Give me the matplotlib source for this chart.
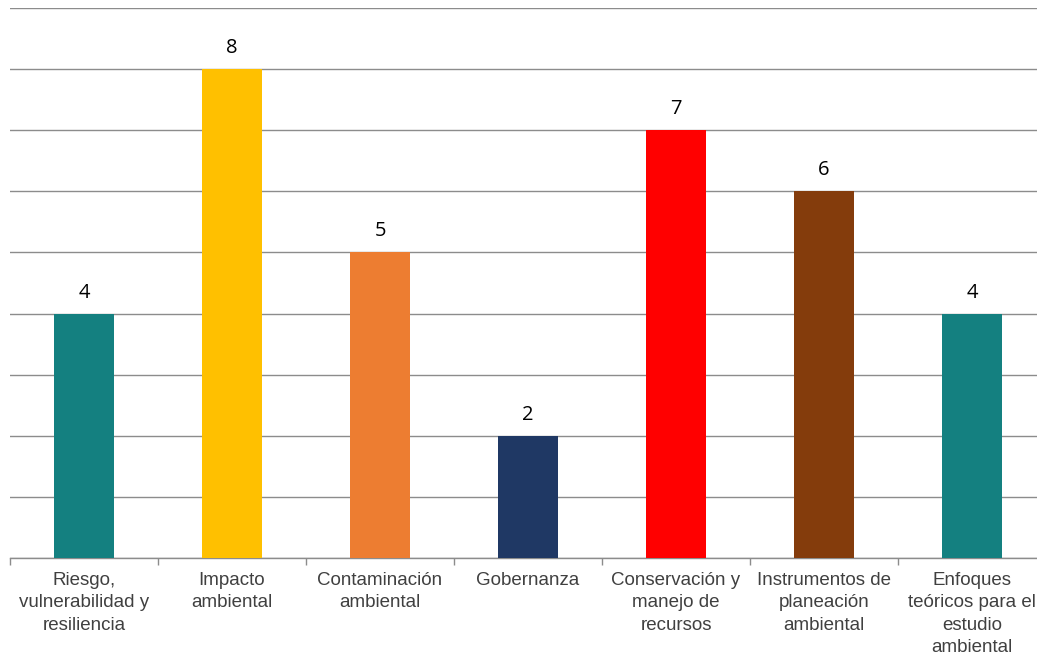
import numpy as np
import matplotlib.pyplot as plt

categories = ['Riesgo,\nvulnerabilidad y\nresiliencia', 'Impacto\nambiental',
              'Contaminación\nambiental', 'Gobernanza', 'Conservación y\nmanejo de\nrecursos',
              'Instrumentos de\nplaneación\nambiental', 'Enfoques\nteóricos para el\nestudio\nambiental']
values = [4, 8, 5, 2, 7, 6, 4]
colors = ['#148080', '#FFC000', '#ED7D31', '#1F3864', '#FF0000', '#843C0C', '#148080']

fig = plt.figure(figsize=(10.37, 6.58), dpi=100)
ax = fig.add_axes([10 / 1037, 1 - 558 / 658, 1036 / 1037, 550 / 658])

x = np.arange(len(values))
bars = ax.bar(x, values, width=0.405, color=colors, zorder=3)
for xi, v in zip(x, values):
    ax.text(xi, v + 0.18, str(v), ha='center', va='bottom', fontsize=14.5,
            family='Open Sans', color='#000000')

ax.set_xlim(-0.5, len(values) - 0.5)
ax.set_ylim(0, 9)
ax.set_yticks(np.arange(0, 10, 1))
ax.yaxis.grid(True, color='#8c8c8c', linewidth=1.0, zorder=0)
ax.tick_params(axis='y', left=False, labelleft=False)

ax.set_xticks(x)
ax.set_xticklabels(categories, fontsize=13.5, family='Liberation Sans', color='#404040',
                   linespacing=1.42)
ax.tick_params(axis='x', which='major', length=0, pad=10)
ax.set_xticks(np.arange(-0.5, len(values), 1), minor=True)
ax.tick_params(axis='x', which='minor', length=5, color='#8c8c8c', width=1.0)

for s in ['top', 'right', 'left']:
    ax.spines[s].set_visible(False)
ax.spines['bottom'].set_color('#8c8c8c')
ax.spines['bottom'].set_linewidth(1.0)

fig.savefig('out.png', dpi=100)
